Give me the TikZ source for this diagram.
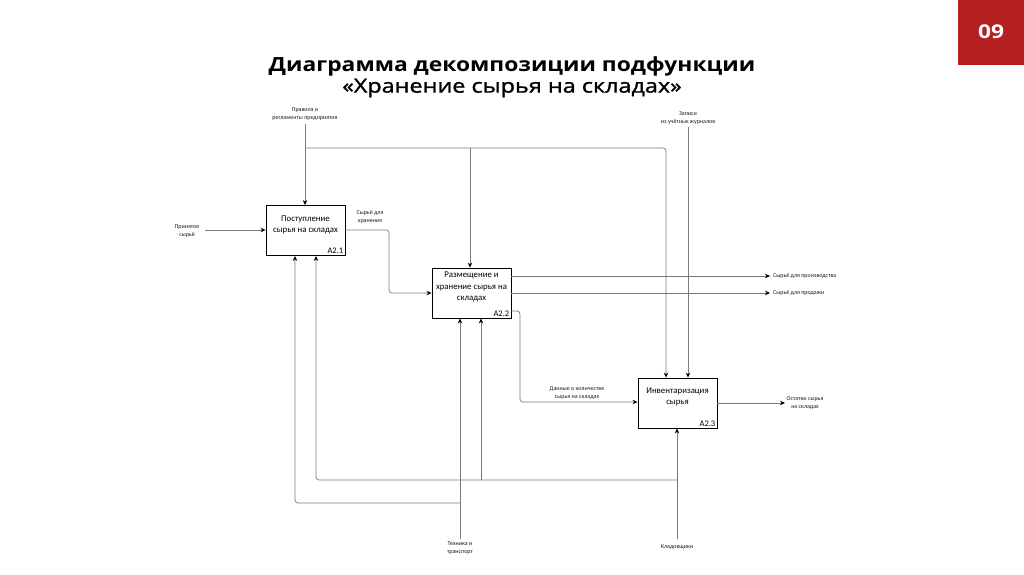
\documentclass[tikz,border=0pt]{standalone}
\usepackage{fontspec}
\setmainfont{Carlito}
\newfontfamily\titlefont{Open Sans}
\newfontfamily\titlemed[FakeBold=1.2]{Open Sans}
\usetikzlibrary{arrows.meta,calc}
\definecolor{redbox}{HTML}{B3201F}
\definecolor{lgray}{HTML}{7A7A7A}
\tikzset{
  box/.style={draw=black, line width=0.9pt, minimum width=79pt, minimum height=50pt, inner sep=0pt},
  boxtext/.style={font=\fontsize{8.8}{11.5}\selectfont, align=center, inner sep=0pt},
  idtext/.style={font=\fontsize{8.5}{9}\selectfont, inner sep=0pt, anchor=south east},
  lbl/.style={font=\fontsize{6}{7.8}\selectfont, align=center, inner sep=0pt, text=black!90},
  conn/.style={draw=lgray, line width=0.7pt, rounded corners=3pt},
  arr/.style={conn, -{Stealth[length=5pt,width=4.5pt,fill=black,color=black]}},
}
\begin{document}
\begin{tikzpicture}[x=1pt,y=-1pt]
\useasboundingbox (0,0) rectangle (1024,574);
% header
\fill[redbox] (958,0) rectangle (1024,65);
\node[text=white, font=\titlefont\bfseries\fontsize{19}{20}\selectfont] (num) at (991,32) {\scalebox{1.2}[1]{09}};
\node[font=\titlefont\bfseries\fontsize{19.5}{22}\selectfont, inner sep=0pt] (t1) at (512,66) {\scalebox{1.17}[1]{Диаграмма декомпозиции подфункции}};
\node[font=\titlemed\fontsize{19.5}{22}\selectfont, inner sep=0pt] (t2) at (512,88) {\scalebox{1.2}[1]{«Хранение сырья на складах»}};
% boxes
\node[box] (a1) at (305.5,230.5) {};
\node[box] (a2) at (471.5,293) {};
\node[box] (a3) at (677.5,403) {};
\node[boxtext] (a1t) at (305.5,225) {Поступление\\сырья на складах};
\node[boxtext] (a2t) at (471.5,287) {Размещение и\\хранение сырья на\\складах};
\node[boxtext] (a3t) at (677.5,397) {Инвентаризация\\сырья};
\node[idtext] (a1i) at ($(a1.south east)+(-2,-2)$) {A2.1};
\node[idtext] (a2i) at ($(a2.south east)+(-2,-2)$) {A2.2};
\node[idtext] (a3i) at ($(a3.south east)+(-2,-2)$) {A2.3};
% labels
\node[lbl] (lctl) at (305,114) {Правила и\\регламенты предприятия};
\node[lbl] (lrec) at (688,118) {Записи\\из учётных журналов};
\node[lbl] (lin) at (187,231) {Принятое\\сырьё};
\node[lbl] (lst) at (370,217) {Сырьё для\\хранения};
\node[lbl, anchor=west] (lprod) at (773,276) {Сырьё для производства};
\node[lbl, anchor=west] (lsale) at (773,293) {Сырьё для продажи};
\node[lbl] (ldata) at (577,393) {Данные о количестве\\сырья на складах};
\node[lbl] (lrest) at (805,403) {Остатки сырья\\на складах};
\node[lbl] (ltech) at (460,548) {Техника и\\транспорт};
\node[lbl] (lkeep) at (677,547) {Кладовщики};
% coordinates
\coordinate (cctl) at (305,124);
\coordinate (cbr) at (305,148);
\coordinate (c2top) at (470,148);
\coordinate (crec) at (688,127);
\coordinate (cin) at (205,230);
\coordinate (cprod) at (770,276);
\coordinate (csale) at (770,293);
\coordinate (crest) at (785,403);
\coordinate (ctech) at (460,539);
\coordinate (ctbr) at (460,503);
\coordinate (ckeep) at (677,539);
\coordinate (ckbr) at (677,480);
\coordinate (ck2) at (481,480);
% controls
\draw[arr] (cctl) -- (cctl |- a1.north);
\draw[arr] (cbr) -| (666,0 |- a3.north);
\draw[arr] (c2top) -- (c2top |- a2.north);
\draw[arr] (crec) -- (crec |- a3.north);
% inputs / outputs
\draw[arr] (cin) -- (cin -| a1.west);
\draw[arr] (a1.east |- 0,230) -| (389,260) |- (a2.west |- 0,293);
\draw[arr] (a2.east |- cprod) -- (cprod);
\draw[arr] (a2.east |- csale) -- (csale);
\draw[arr] (a2.east |- 0,311) -| (520,360) |- (a3.west |- 0,402);
\draw[arr] (a3.east |- crest) -- (crest);
% mechanisms
\draw[arr] (ctech) -- (ctech |- a2.south);
\draw[arr] (ctbr) -| (295,0 |- a1.south);
\draw[arr] (ckeep) -- (ckeep |- a3.south);
\draw[arr] (ckbr) -| (316,0 |- a1.south);
\draw[arr] (ck2) -- (ck2 |- a2.south);
\end{tikzpicture}
\end{document}
